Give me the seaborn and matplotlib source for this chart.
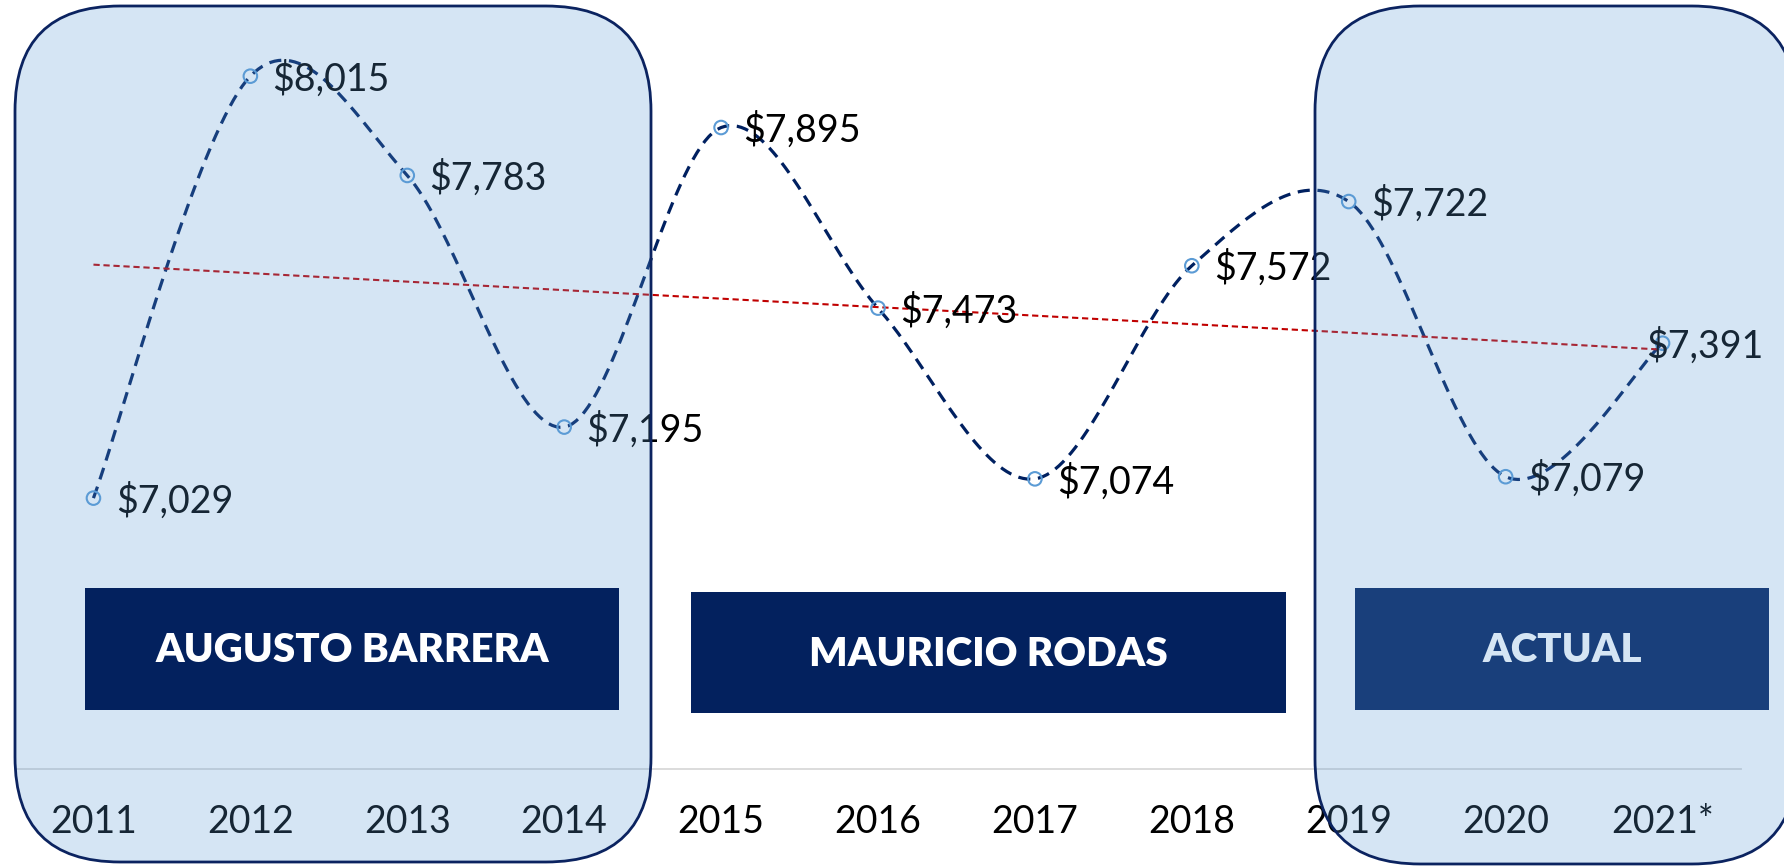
import numpy as np
import pandas as pd
import matplotlib
matplotlib.use("Agg")
import matplotlib.pyplot as plt
import seaborn as sns
from matplotlib.patches import FancyBboxPatch, Rectangle

# data
years = ["2011", "2012", "2013", "2014", "2015", "2016", "2017", "2018", "2019", "2020", "2021*"]
values = [7029, 8015, 7783, 7195, 7895, 7473, 7074, 7572, 7722, 7079, 7391]
periods = ["AUGUSTO BARRERA", "MAURICIO RODAS", "ACTUAL"]

df = pd.DataFrame({"year": years, "value": values, "pos": np.arange(len(years))})

sns.set_style("white")
plt.rcParams["font.family"] = ["Lato", "DejaVu Sans"]

W, H = 1784, 866
fig = plt.figure(figsize=(W / 100, H / 100), dpi=100)

# main axes: bottom spine sits where the gray axis line is
ax = fig.add_axes([15 / W, (H - 769) / H, 1726 / W, 769 / H])

# smooth curve like Excel's smoothed line (Catmull-Rom through the points)
x = df["pos"].to_numpy(float)
y = df["value"].to_numpy(float)
px = np.concatenate([[x[0]], x, [x[-1]]])
py = np.concatenate([[y[0]], y, [y[-1]]])
sx, sy = [], []
t = np.linspace(0, 1, 40)
for i in range(1, len(px) - 2):
    p0, p1, p2, p3 = (np.array([px[j], py[j]]) for j in (i - 1, i, i + 1, i + 2))
    c1 = p1 + (p2 - p0) / 6
    c2 = p2 - (p3 - p1) / 6
    seg = ((1 - t) ** 3)[:, None] * p1 + (3 * (1 - t) ** 2 * t)[:, None] * c1 \
        + (3 * (1 - t) * t ** 2)[:, None] * c2 + (t ** 3)[:, None] * p2
    sx.extend(seg[:, 0])
    sy.extend(seg[:, 1])
smooth = pd.DataFrame({"x": sx, "y": sy})

sns.lineplot(data=smooth, x="x", y="y", ax=ax, color="#002060", lw=2.3,
             sort=False, estimator=None)
ax.lines[-1].set_dashes([3.8, 2.4])

# linear trend
k, b = np.polyfit(x, y, 1)
trend = pd.DataFrame({"x": x, "y": k * x + b})
sns.lineplot(data=trend, x="x", y="y", ax=ax, color="#C00000", lw=1.5)
ax.lines[-1].set_dashes([3, 1.8])

sns.scatterplot(data=df, x="pos", y="value", ax=ax, marker="o", s=95,
                facecolor="none", edgecolor="#5B9BD5", linewidth=1.5, zorder=5)

# data labels
for i, (xi, v) in enumerate(zip(x, y)):
    dx = 16 if i < len(x) - 1 else -12
    ax.annotate(f"${v:,.0f}", (xi, v), xytext=(dx, -2), textcoords="offset points",
                ha="left", va="center", fontsize=27, color="black", zorder=6)

ax.set_xlim(-0.5, len(years) - 0.5)
ax.set_ylim(6396, 8193)
ax.set_xticks(x)
ax.set_xticklabels(years, fontsize=27, color="black")
ax.tick_params(axis="x", length=0, pad=25)
ax.set_yticks([])
ax.set_xlabel("")
ax.set_ylabel("")
for s in ["top", "left", "right"]:
    ax.spines[s].set_visible(False)
ax.spines["bottom"].set_color("#D9D9D9")
ax.spines["bottom"].set_linewidth(1.3)
ax.patch.set_alpha(0)

# decoration layer in pixel units (top-left origin)
deco = fig.add_axes([0, 0, 1, 1], zorder=2)
deco.set_xlim(0, W)
deco.set_ylim(H, 0)
deco.axis("off")
deco.patch.set_alpha(0)

fill = (0x5B / 255, 0x9B / 255, 0xD5 / 255, 0.25)
edge = "#0B2360"

left_box = FancyBboxPatch((15, 6), 636, 856, boxstyle="round,pad=0,rounding_size=105",
                          facecolor=fill, edgecolor=edge, lw=2, zorder=1)
deco.add_patch(left_box)

label_boxes = [(85, 588, 534, 122), (691, 592, 595, 121), (1355, 588, 414, 122)]
for (bx, by, bw, bh), name in zip(label_boxes, periods):
    deco.add_patch(Rectangle((bx, by), bw, bh, facecolor="#03215E", edgecolor="none", zorder=2))
    deco.text(bx + bw / 2, by + bh / 2 + 2, name, ha="center", va="center",
              color="white", fontsize=29, fontweight="heavy", zorder=3)

right_box = FancyBboxPatch((1315, 6), 482, 858, boxstyle="round,pad=0,rounding_size=105",
                           facecolor=fill, edgecolor=edge, lw=2, zorder=4)
deco.add_patch(right_box)

fig.savefig("out.png", dpi=100)
